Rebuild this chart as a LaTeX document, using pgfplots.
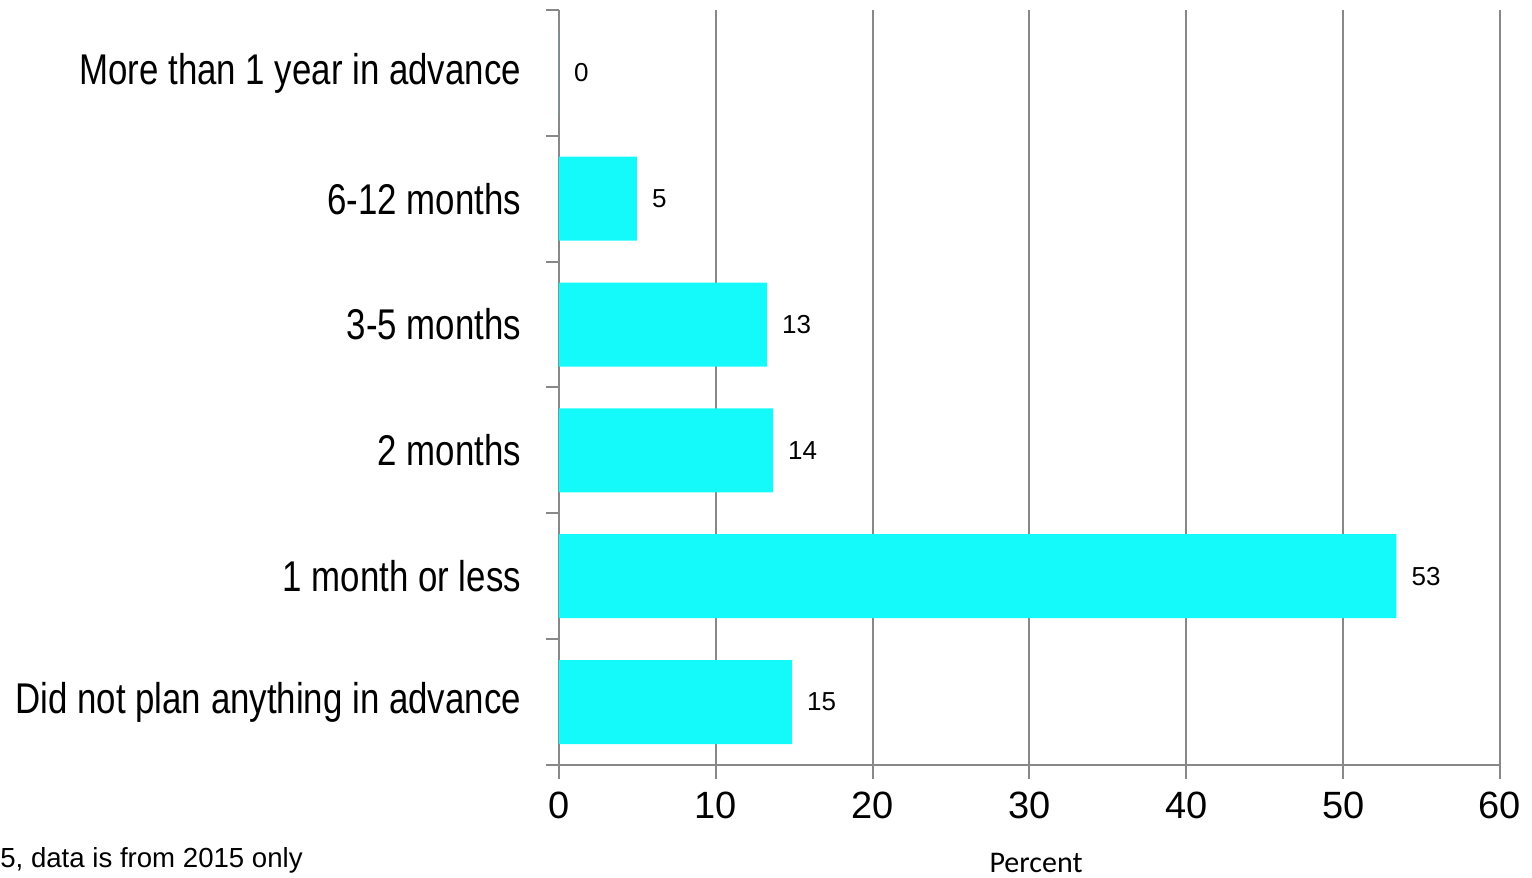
\documentclass[border=0pt]{standalone}
\usepackage{pgfplots}
\pgfplotsset{compat=1.18}
\usepackage{fontspec}
\setmainfont{Liberation Sans}
\newfontfamily\catfont[FakeStretch=0.81]{Liberation Sans}
\newfontfamily\calibri{Carlito}
\definecolor{axisgray}{RGB}{136,136,136}
\definecolor{barcyan}{RGB}{20,250,250}
\definecolor{baredge}{RGB}{14,205,205}
\begin{document}
\begin{tikzpicture}
\begin{axis}[
  scale only axis, width=470.5pt, height=377.5pt,
  xmin=0, xmax=60, ymin=-0.5, ymax=5.5,
  xbar, bar width=42pt,
  axis x line*=bottom, axis y line*=left,
  axis line style={draw=axisgray, line width=1pt, -},
  xtick={0,10,...,60},
  xmajorgrids, grid style={draw=axisgray, line width=1pt},
  tick align=outside,
  major tick length=7pt, minor tick length=6.5pt,
  ytick={0,...,5},
  yticklabels={Did not plan anything in advance, 1 month or less, 2 months, 3-5 months, 6-12 months, More than 1 year in advance},
  minor ytick={-0.5,0.5,...,5.5},
  major y tick style={draw=none},
  minor y tick style={draw=axisgray, line width=1pt},
  x tick style={draw=axisgray, line width=1pt},
  yticklabel style={font=\catfont\fontsize{21.5}{26}\selectfont, xshift=-8.5pt},
  xticklabel style={font=\fontsize{19}{23}\selectfont, yshift=-3pt},
  /pgf/number format/assume math mode=true,
  point meta=x,
  nodes near coords={\pgfmathprintnumber[fixed,precision=0]{\pgfplotspointmeta}},
  nodes near coords style={anchor=west, font=\fontsize{13}{15}\selectfont, xshift=4pt},
]
\addplot[fill=barcyan, draw=none] coordinates {
  (14.86,0) (53.4,1) (13.65,2) (13.27,3) (4.97,4) (0,5)
};
\end{axis}
\node[anchor=base west, font=\fontsize{13.8}{16}\selectfont, inner sep=0] at (-279.5pt,-51.5pt) {5, data is from 2015 only};
\node[anchor=base, font=\calibri\fontsize{15}{18}\selectfont, inner sep=0] at (238.5pt,-54pt) {Percent};
\path[use as bounding box] (-279.5pt,-56.5pt) rectangle (486.5pt,382.5pt);
\end{tikzpicture}
\end{document}
